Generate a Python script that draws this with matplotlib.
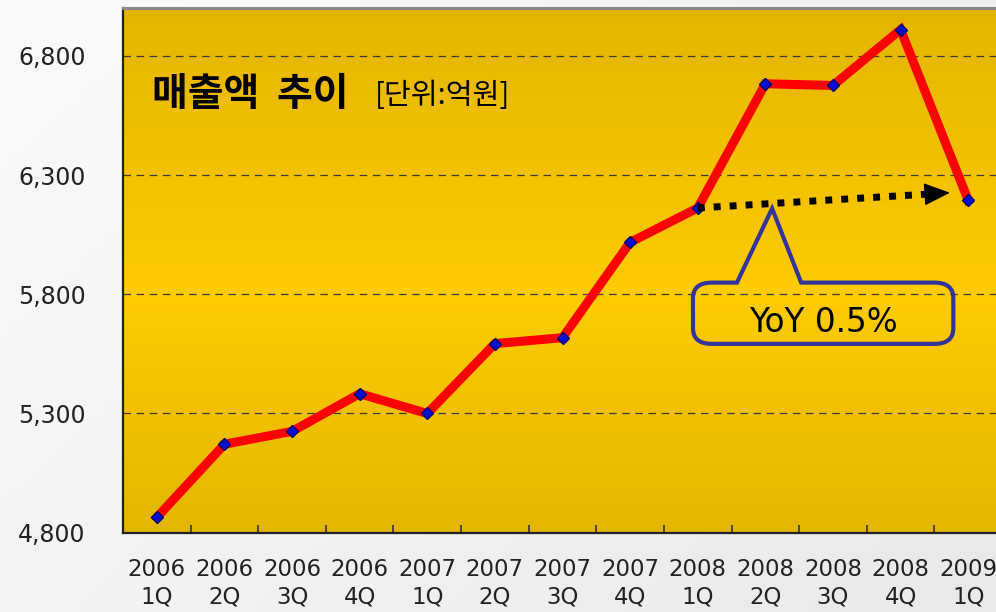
import numpy as np
import matplotlib.pyplot as plt
from matplotlib.colors import LinearSegmentedColormap
from matplotlib.path import Path
from matplotlib.patches import PathPatch

# quarterly sales (억원)
quarters = ['2006\n1Q', '2006\n2Q', '2006\n3Q', '2006\n4Q',
            '2007\n1Q', '2007\n2Q', '2007\n3Q', '2007\n4Q',
            '2008\n1Q', '2008\n2Q', '2008\n3Q', '2008\n4Q', '2009\n1Q']
sales = [4864, 5171, 5225, 5383, 5300, 5593, 5618, 6018,
         6162, 6683, 6676, 6910, 6195]
y_ticks = [4800, 5300, 5800, 6300, 6800]
y_tick_labels = ['4,800', '5,300', '5,800', '6,300', '6,800']

title_main = '매출액  추이'
title_unit = '[단위:억원]'
callout_text = 'YoY 0.5%'

plt.rcParams['font.family'] = ['DejaVu Sans', 'Noto Sans CJK KR']

fig = plt.figure(figsize=(9.96, 6.12), dpi=100)

# light grey page background
bg = fig.add_axes([0, 0, 1, 1], zorder=-10)
gx, gy = np.meshgrid(np.linspace(0, 1, 200), np.linspace(0, 1, 200))
bg.imshow(0.6 * gx + 0.4 * gy, cmap=LinearSegmentedColormap.from_list(
    'page', ['#FBFBFB', '#E9E9E9']), aspect='auto', extent=[0, 1, 0, 1])
bg.axis('off')

ax = fig.add_axes([123 / 996, 1 - 532.7 / 612, 879 / 996, 524.5 / 612])
x = np.arange(len(quarters))
ymin, ymax = 4800, 7000

# golden gradient fill of the plot area
gold = LinearSegmentedColormap.from_list(
    'gold', [(0, '#E3B500'), (0.55, '#FFCC00'), (1, '#E3B600')])
ax.imshow(np.linspace(0, 1, 256).reshape(-1, 1), cmap=gold, aspect='auto',
          extent=[-0.5, len(quarters) - 0.5, ymin, ymax], zorder=0)

for yt in y_ticks[1:]:
    ax.axhline(yt, color='#3a3a3a', lw=0.9, ls=(0, (6, 4.5)), zorder=1)

ax.plot(x, sales, color='#FF0000', lw=6.5, solid_joinstyle='miter', zorder=3)
ax.plot(x, sales, ls='none', marker='D', ms=6.5, mfc='#0010D0',
        mec='#000070', mew=1.0, zorder=4)

# dotted trend arrow 2008 1Q -> 2009 1Q
ax.plot([8, 11.39], [sales[8], 6220], color='black', lw=5,
        ls=(0, (1, 1.3)), dash_capstyle='butt', zorder=5)
ax.annotate('', xy=(11.73, 6226), xytext=(11.39, 6220),
            arrowprops=dict(arrowstyle='-|>,head_length=1.66,head_width=0.72',
                            color='black', lw=1, shrinkA=0, shrinkB=0,
                            mutation_scale=10), zorder=5)

# callout bubble
x0, x1, y0, y1 = 7.93, 11.78, 5592, 5849
bx0, bx1, tip = 8.58, 9.53, (9.10, 6160)
rx, ry = 0.28, 65
verts = [(bx0, y1), tip, (bx1, y1), (x1 - rx, y1),
         (x1, y1), (x1, y1 - ry), (x1, y0 + ry),
         (x1, y0), (x1 - rx, y0), (x0 + rx, y0),
         (x0, y0), (x0, y0 + ry), (x0, y1 - ry),
         (x0, y1), (x0 + rx, y1), (bx0, y1), (bx0, y1)]
codes = [Path.MOVETO, Path.LINETO, Path.LINETO, Path.LINETO,
         Path.CURVE3, Path.CURVE3, Path.LINETO,
         Path.CURVE3, Path.CURVE3, Path.LINETO,
         Path.CURVE3, Path.CURVE3, Path.LINETO,
         Path.CURVE3, Path.CURVE3, Path.LINETO, Path.CLOSEPOLY]
ax.add_patch(PathPatch(Path(verts, codes), facecolor='none',
                       edgecolor='#333399', lw=3, joinstyle='miter', zorder=6))
ax.text((x0 + x1) / 2, 5680, callout_text, fontsize=23.5, color='black',
        ha='center', va='center', zorder=7)

# title inside plot
ax.text(0.033, 0.835, title_main, transform=ax.transAxes, fontsize=28,
        family=['Noto Sans CJK KR'], fontweight='bold', va='center', ha='left')
ax.text(0.287, 0.833, title_unit, transform=ax.transAxes, fontsize=21,
        family=['Noto Sans CJK KR'], fontweight='medium', va='center', ha='left')

ax.set_xlim(-0.5, len(quarters) - 0.5)
ax.set_ylim(ymin, ymax)
ax.set_xticks(x)
ax.set_xticklabels(quarters, fontsize=16.5, color='#222222', linespacing=1.25)
ax.set_xticks(np.arange(0.5, len(quarters) - 1, 1), minor=True)
ax.tick_params(axis='x', which='major', length=0, pad=18)
ax.tick_params(axis='x', which='minor', direction='in', length=6,
               width=1.2, color='#333333')
ax.set_yticks(y_ticks)
ax.set_yticklabels(y_tick_labels, fontsize=17, color='#222222')
ax.tick_params(axis='y', length=0, pad=27)

ax.spines['right'].set_visible(False)
ax.spines['left'].set_color('#222222')
ax.spines['left'].set_linewidth(1.6)
ax.spines['bottom'].set_color('#222222')
ax.spines['bottom'].set_linewidth(1.6)
ax.spines['top'].set_color('#8a8a8a')
ax.spines['top'].set_linewidth(2.2)

fig.savefig('out.png', dpi=100)
